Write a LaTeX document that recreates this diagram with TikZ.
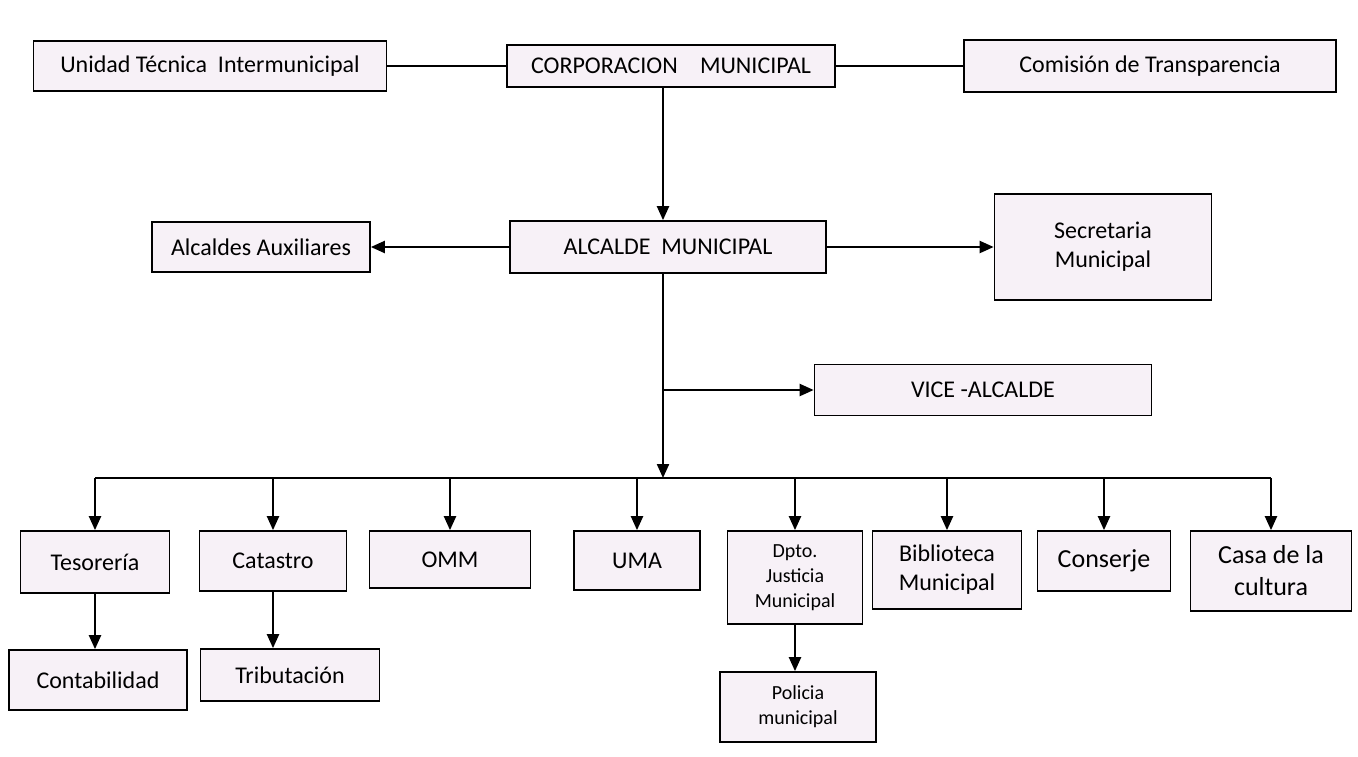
\documentclass[tikz,border=0pt]{standalone}
\usepackage{fontspec}
\setmainfont{Carlito}
\usetikzlibrary{arrows.meta}
\definecolor{boxfill}{RGB}{247,241,247}

\begin{document}
\begin{tikzpicture}[
    x=1pt, y=-1pt,
    unit/.style={rectangle, draw=black, line width=1.7pt, fill=boxfill, align=center, inner sep=0pt, font=\fontsize{24}{29}\selectfont},
    small/.style={font=\fontsize{20}{25}\selectfont},
    big/.style={font=\fontsize{26}{32}\selectfont},
    link/.style={line width=2.2pt},
    arrow/.style={-{Triangle[length=14pt,width=12pt]}, line width=2.2pt}
]
\useasboundingbox (0,0) rectangle (1358,756);

% Nodes
\node[unit, minimum width=353pt, minimum height=50pt] (unidad) at (210,66) {Unidad Técnica\ \ Intermunicipal};
\node[unit, minimum width=328pt, minimum height=42pt] (corporacion) at (671,66) {CORPORACION\hspace{0.7em} MUNICIPAL};
\node[unit, minimum width=372pt, minimum height=52pt] (comision) at (1150,66) {Comisión de Transparencia};

\node[unit, minimum width=218pt, minimum height=50pt] (auxiliares) at (261,247) {Alcaldes Auxiliares};
\node[unit, minimum width=316pt, minimum height=52pt] (alcalde) at (668,247) {ALCALDE\ \ MUNICIPAL};
\node[unit, minimum width=217pt, minimum height=106pt] (secretaria) at (1103,247) {Secretaria\\ Municipal};

\node[unit, minimum width=337pt, minimum height=51pt] (vice) at (983,390) {VICE -ALCALDE};

\node[unit, minimum width=149pt, minimum height=62pt] (tesoreria) at (95,562) {Tesorería};
\node[unit, minimum width=147pt, minimum height=60pt] (catastro) at (273,561) {Catastro};
\node[unit, minimum width=161pt, minimum height=57pt] (omm) at (450,559.5) {OMM};
\node[unit, minimum width=126pt, minimum height=59pt] (uma) at (637,560.5) {UMA};
\node[unit, small, minimum width=135pt, minimum height=93pt] (justicia) at (795,577.5) {Dpto.\\ Justicia\\ Municipal};
\node[unit, minimum width=149pt, minimum height=78pt] (biblioteca) at (947,570) {Biblioteca\\ Municipal};
\node[unit, big, minimum width=133pt, minimum height=60pt] (conserje) at (1104,561) {Conserje};
\node[unit, big, minimum width=161pt, minimum height=80pt] (casa) at (1271,571) {Casa de la\\ cultura};

\node[unit, minimum width=178pt, minimum height=60pt] (contabilidad) at (98,680) {Contabilidad};
\node[unit, minimum width=179pt, minimum height=52pt] (tributacion) at (290,675) {Tributación};
\node[unit, small, minimum width=156pt, minimum height=70pt] (policia) at (798,707) {Policia\\ municipal};

\coordinate (trunk) at (663,0);
\coordinate (bus) at (0,478);

% Arrows
\draw[link] (unidad) -- (corporacion);
\draw[link] (corporacion) -- (comision);
\draw[arrow] (corporacion.south -| trunk) -- (alcalde.north -| trunk);
\draw[arrow] (alcalde) -- (auxiliares);
\draw[arrow] (alcalde) -- (secretaria);
\draw[arrow] (alcalde.south -| trunk) -- (trunk |- bus);
\draw[arrow] (trunk |- vice) -- (vice);
\draw[link] (tesoreria.north |- bus) -- (casa.north |- bus);
\foreach \n in {tesoreria,catastro,omm,uma,justicia,biblioteca,conserje,casa}
  \draw[arrow] (\n.north |- bus) -- (\n.north);
\draw[arrow] (tesoreria.south) -- (tesoreria.south |- contabilidad.north);
\draw[arrow] (catastro.south) -- (catastro.south |- tributacion.north);
\draw[arrow] (justicia.south) -- (justicia.south |- policia.north);

\end{tikzpicture}
\end{document}
